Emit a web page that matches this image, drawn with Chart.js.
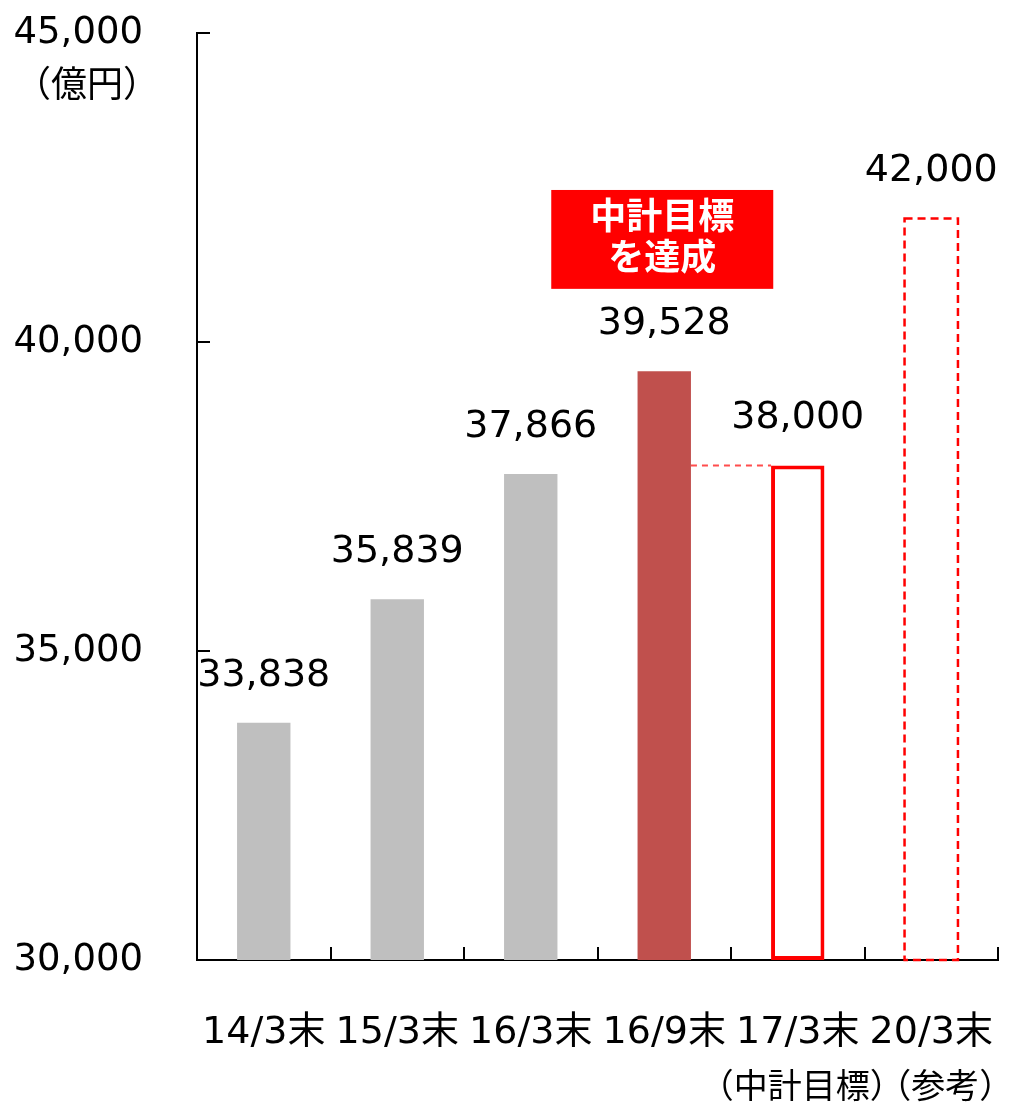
<!DOCTYPE html>
<html lang="ja">
<head>
<meta charset="utf-8">
<script src="https://cdn.jsdelivr.net/npm/chart.js@4.4.0/dist/chart.umd.min.js"></script>
<style>
  html, body { margin: 0; padding: 0; background: #fff; }
  #wrap { width: 1009px; height: 1102px; }
</style>
</head>
<body>
<div id="wrap"><canvas id="chart"></canvas></div>
<script>
const categories = ['14/3末', '15/3末', '16/3末', '16/9末', '17/3末', '20/3末'];
const subLabels = ['', '', '', '', '（中計目標）', '（参考）'];
const values = [33838, 35839, 37866, 39528, 38000, 42000];
const yTicks = [30000, 35000, 40000, 45000];
const unitLabel = '（億円）';
const calloutLines = ['中計目標', 'を達成'];

const barColors = ['#BFBFBF', '#BFBFBF', '#BFBFBF', '#C0504D', '#FFFFFF', 'rgba(0,0,0,0)'];
const borderColors = ['#BFBFBF', '#BFBFBF', '#BFBFBF', '#C0504D', '#FF0000', 'rgba(0,0,0,0)'];
const borderWidths = [0, 0, 0, 0, 4, 0];
const subLabelShift = [0, 0, 0, 0, 4, 14];

const FONT = '"DejaVu Sans", "Noto Sans CJK JP", sans-serif';
const CJK = '"Noto Sans CJK JP", sans-serif';

function fmt(v) {
    return v.toLocaleString('en-US');
}

const decorations = {
    id: 'decorations',
    afterDatasetsDraw(chart) {
        const ctx = chart.ctx;
        const y = chart.scales.y;
        const area = chart.chartArea;
        const bars = chart.getDatasetMeta(0).data;
        ctx.save();

        // dashed outline for the reference bar
        const ref = bars[5];
        const base = Math.min(ref.base, area.bottom);
        ctx.strokeStyle = '#FF0000';
        ctx.lineWidth = 2.5;
        ctx.setLineDash([8, 5]);
        ctx.strokeRect(ref.x - ref.width / 2, ref.y, ref.width, base - ref.y);

        // guide line at the target level
        const from = bars[3], to = bars[4];
        const ty = y.getPixelForValue(values[4]);
        ctx.strokeStyle = '#FF4D4D';
        ctx.lineWidth = 2;
        ctx.setLineDash([6, 5]);
        ctx.beginPath();
        ctx.moveTo(from.x + from.width / 2, ty);
        ctx.lineTo(to.x - to.width / 2, ty);
        ctx.stroke();
        ctx.setLineDash([]);

        // value labels
        ctx.fillStyle = '#000';
        ctx.font = '38px ' + FONT;
        ctx.textAlign = 'center';
        ctx.textBaseline = 'middle';
        bars.forEach((b, i) => {
            ctx.fillText(fmt(values[i]), b.x, b.y - 47);
        });

        // callout box
        const top = y.getPixelForValue(42460);
        const bottom = y.getPixelForValue(40860);
        const cx = bars[3].x - 2;
        ctx.fillStyle = '#FF0000';
        ctx.fillRect(cx - 111, top, 222, bottom - top);
        ctx.fillStyle = '#FFFFFF';
        ctx.font = 'bold 36px ' + CJK;
        const mid = (top + bottom) / 2;
        ctx.fillText(calloutLines[0], cx, mid - 24);
        ctx.fillText(calloutLines[1], cx, mid + 17);
        ctx.restore();
    },
    afterDraw(chart) {
        const ctx = chart.ctx;
        const { x, y } = chart.scales;
        const area = chart.chartArea;
        ctx.save();
        ctx.strokeStyle = '#000';
        ctx.lineWidth = 2;

        // inward tick marks on the category axis
        const step = x.getPixelForValue(1) - x.getPixelForValue(0);
        categories.forEach((c, i) => {
            const px = Math.round(x.getPixelForValue(i) + step / 2);
            ctx.beginPath();
            ctx.moveTo(px, area.bottom);
            ctx.lineTo(px, area.bottom - 13);
            ctx.stroke();
        });

        // inward tick marks on the value axis
        yTicks.forEach(v => {
            const py = Math.round(y.getPixelForValue(v));
            ctx.beginPath();
            ctx.moveTo(area.left, py);
            ctx.lineTo(area.left + 13, py);
            ctx.stroke();
        });

        // sub labels under categories
        ctx.fillStyle = '#000';
        ctx.font = '34px ' + CJK;
        ctx.textAlign = 'center';
        ctx.textBaseline = 'middle';
        subLabels.forEach((s, i) => {
            if (s) ctx.fillText(s, x.getPixelForValue(i) + subLabelShift[i], area.bottom + 125);
        });

        // unit label
        ctx.font = '36px ' + CJK;
        ctx.fillText(unitLabel, area.left - 110, y.getPixelForValue(yTicks[3]) + 50);
        ctx.restore();
    }
};

new Chart(document.getElementById('chart'), {
    type: 'bar',
    data: {
        labels: categories,
        datasets: [{
            data: values,
            base: 30000,
            backgroundColor: barColors,
            borderColor: borderColors,
            borderWidth: borderWidths,
            borderSkipped: false,
            barPercentage: 0.4,
            categoryPercentage: 1
        }]
    },
    options: {
        responsive: true,
        maintainAspectRatio: false,
        animation: false,
        layout: {
            padding: { top: 33, right: 11, left: 0, bottom: 0 }
        },
        plugins: {
            legend: { display: false },
            tooltip: { enabled: false }
        },
        scales: {
            x: {
                grid: { display: false },
                border: { display: true, color: '#000', width: 2 },
                ticks: {
                    color: '#000',
                    font: { family: FONT, size: 38 },
                    padding: 42,
                    maxRotation: 0,
                    autoSkip: false
                },
                afterFit(scale) {
                    scale.height = 142;
                    scale.paddingLeft = 0;
                    scale.paddingRight = 0;
                }
            },
            y: {
                min: 30000,
                max: 45000,
                grid: { display: false },
                border: { display: true, color: '#000', width: 2 },
                ticks: {
                    stepSize: 5000,
                    color: '#000',
                    font: { family: FONT, size: 37 },
                    padding: 46,
                    callback: v => fmt(v)
                },
                afterFit(scale) {
                    scale.width = 197;
                    scale.paddingTop = 0;
                    scale.paddingBottom = 0;
                }
            }
        }
    },
    plugins: [decorations]
});
</script>
</body>
</html>
